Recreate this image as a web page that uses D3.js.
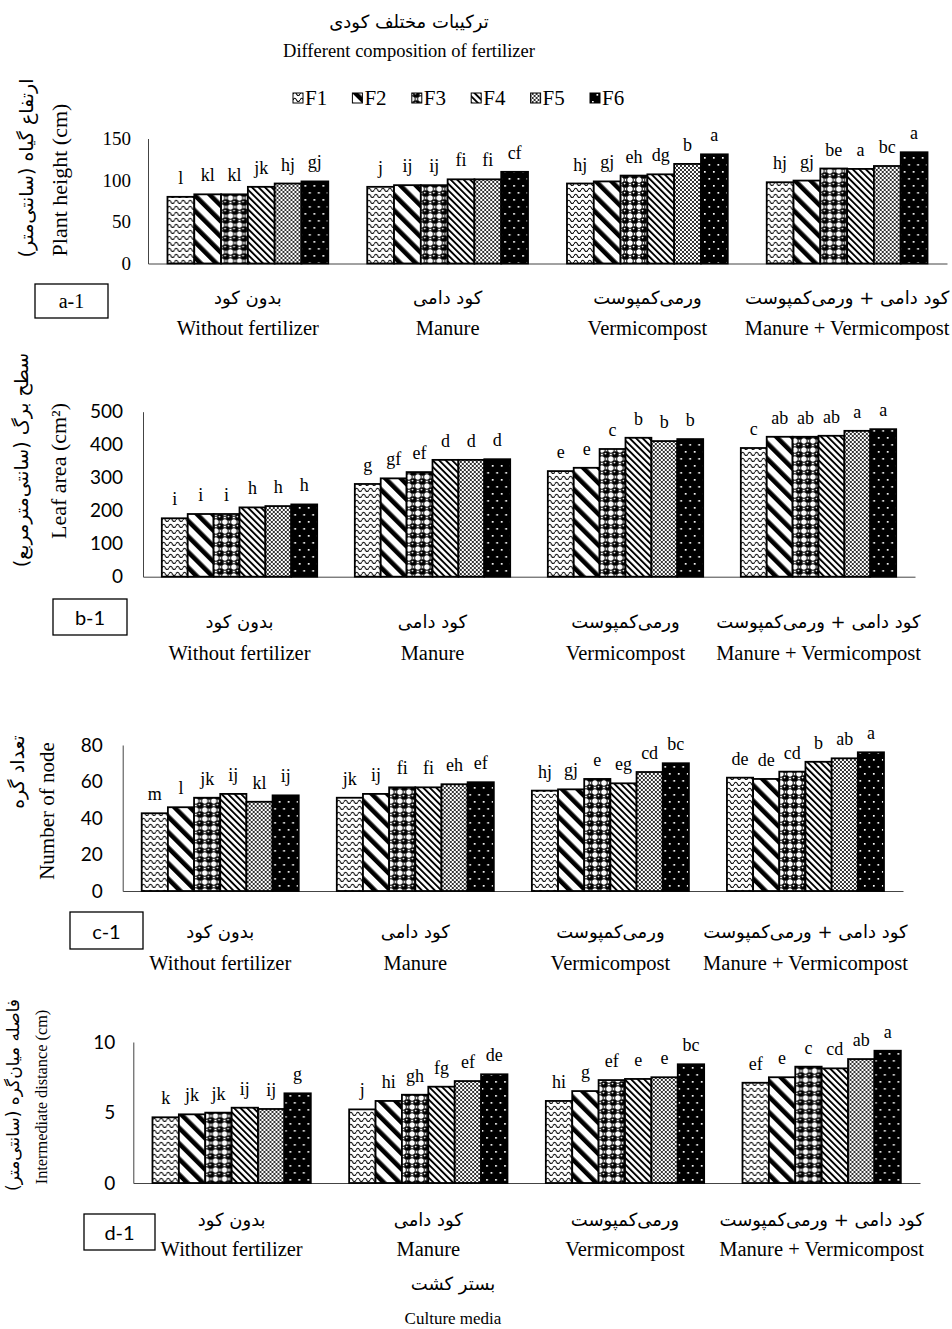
<!DOCTYPE html>
<html>
<head>
<meta charset="utf-8">
<script src="https://cdn.jsdelivr.net/npm/d3@7"></script>
<style>
  body { margin: 0; background: #fff; }
  svg { display: block; }
</style>
</head>
<body>
<svg id="chart" width="952" height="1329"></svg>
<script>
// ---------- data ----------
const seriesNames = ["F1", "F2", "F3", "F4", "F5", "F6"];
const categoriesFa = ["بدون کود", "کود دامی", "ورمی‌کمپوست", "کود دامی + ورمی‌کمپوست"];
const categoriesEn = ["Without fertilizer", "Manure", "Vermicompost", "Manure + Vermicompost"];

const heightValues = [
  [80, 83, 83, 92, 96, 98.5],
  [92, 94, 94, 101, 101, 110],
  [96, 98.5, 105.5, 107, 119.5, 131],
  [97.5, 99.5, 114, 113.5, 117, 133.5]
];
const heightLetters = [
  ["l", "kl", "kl", "jk", "hj", "gj"],
  ["j", "ij", "ij", "fi", "fi", "cf"],
  ["hj", "gj", "eh", "dg", "b", "a"],
  ["hj", "gj", "be", "a", "bc", "a"]
];
const heightTicks = [0, 50, 100, 150];

const leafAreaValues = [
  [177, 190, 190, 210, 214, 219],
  [281, 298, 317, 354, 354, 356],
  [320, 330, 387, 421, 411, 417],
  [390, 424, 424, 427, 442, 447]
];
const leafAreaLetters = [
  ["i", "i", "i", "h", "h", "h"],
  ["g", "gf", "ef", "d", "d", "d"],
  ["e", "e", "c", "b", "b", "b"],
  ["c", "ab", "ab", "ab", "a", "a"]
];
const leafAreaTicks = [0, 100, 200, 300, 400, 500];

const nodeValues = [
  [42.6, 45.9, 51.1, 53.2, 48.9, 52.4],
  [51.1, 53.2, 56.8, 56.8, 58.5, 59.6],
  [55, 55.7, 61.4, 59, 65.2, 70],
  [62.1, 61.4, 65.4, 70.8, 72.7, 76]
];
const nodeLetters = [
  ["m", "l", "jk", "ij", "kl", "ij"],
  ["jk", "ij", "fi", "fi", "eh", "ef"],
  ["hj", "gj", "e", "eg", "cd", "bc"],
  ["de", "de", "cd", "b", "ab", "a"]
];
const nodeTicks = [0, 20, 40, 60, 80];

const internodeValues = [
  [4.66, 4.87, 4.99, 5.34, 5.25, 6.36],
  [5.22, 5.82, 6.26, 6.83, 7.23, 7.71],
  [5.82, 6.52, 7.3, 7.38, 7.5, 8.42],
  [7.11, 7.5, 8.25, 8.13, 8.79, 9.38]
];
const internodeLetters = [
  ["k", "jk", "jk", "ij", "ij", "g"],
  ["j", "hi", "gh", "fg", "ef", "de"],
  ["hi", "g", "ef", "e", "e", "bc"],
  ["ef", "e", "c", "cd", "ab", "a"]
];
const internodeTicks = [0, 5, 10];

const yTitlesFa = ["ارتفاع گیاه (سانتی‌متر)", "سطح برگ (سانتی‌مترمربع)", "تعداد گره", "فاصله میان‌گره (سانتی‌متر)"];
const yTitlesEn = ["Plant height (cm)", "Leaf area (cm²)", "Number of node", "Intermediate distance (cm)"];
const panelTags = ["a-1", "b-1", "c-1", "d-1"];

const titleFa = "ترکیبات مختلف کودی";
const titleEn = "Different composition of fertilizer";
const xTitleFa = "بستر کشت";
const xTitleEn = "Culture media";

// ---------- styles & layout ----------
const SERIF = "'Liberation Serif','Times New Roman',serif";
const SANS = "Lato,'Liberation Sans',Arial,sans-serif";
const FA = "'DejaVu Sans',sans-serif";

const panels = [
  { values: heightValues, letters: heightLetters, ticks: heightTicks,
    left: 148, right: 947, top: 138.5, base: 263.5,
    tickFont: SERIF, tickSize: 19, tickGap: 17,
    faX: 26, faY: 168, faSize: 19, enX: 59, enY: 180, enSize: 22,
    catFaDy: 40, catEnDy: 71, box: [35, 284, 73, 34] },
  { values: leafAreaValues, letters: leafAreaLetters, ticks: leafAreaTicks,
    left: 143, right: 915, top: 411.7, base: 576.7,
    tickFont: SANS, tickSize: 19, tickGap: 20,
    faX: 21, faY: 460, faSize: 19, enX: 58, enY: 471, enSize: 22,
    catFaDy: 51, catEnDy: 83, box: [53, 599, 74, 36] },
  { values: nodeValues, letters: nodeLetters, ticks: nodeTicks,
    left: 122.7, right: 903, top: 745, base: 891,
    tickFont: SANS, tickSize: 19, tickGap: 20,
    faX: 17, faY: 772, faSize: 19, enX: 47, enY: 811, enSize: 21,
    catFaDy: 47, catEnDy: 79, box: [70, 912, 73, 37] },
  { values: internodeValues, letters: internodeLetters, ticks: internodeTicks,
    left: 133.3, right: 920, top: 1042, base: 1183,
    tickFont: SANS, tickSize: 19, tickGap: 18,
    faX: 13, faY: 1095, faSize: 17, enX: 41, enY: 1097, enSize: 16.3,
    catFaDy: 43, catEnDy: 73, box: [84, 1214, 71, 36] }
];

const svg = d3.select("#chart");
const defs = svg.append("defs");

// ---------- fill patterns ----------
function pat(id, w, h, transform) {
  const p = defs.append("pattern").attr("id", id)
    .attr("patternUnits", "userSpaceOnUse").attr("width", w).attr("height", h);
  if (transform) p.attr("patternTransform", transform);
  return p;
}
// F1: wavy lines
{
  const p = pat("pF1", 7, 6);
  p.append("rect").attr("width", 7).attr("height", 6).attr("fill", "#fff");
  p.append("path").attr("d", "M0,4 Q1.75,0.6 3.5,4 T7,4")
    .attr("fill", "none").attr("stroke", "#000").attr("stroke-width", 1.1);
}
// F2: wide diagonal stripes
{
  const p = pat("pF2", 11, 11, "rotate(-45)");
  p.append("rect").attr("width", 11).attr("height", 11).attr("fill", "#fff");
  p.append("rect").attr("width", 4.6).attr("height", 11).attr("fill", "#000");
}
// F3: spheres on a checker
{
  const p = pat("pF3", 9, 9);
  p.append("rect").attr("width", 9).attr("height", 9).attr("fill", "#fff");
  [[0, 0], [9, 0], [0, 9], [9, 9]].forEach(([cx, cy]) =>
    p.append("circle").attr("cx", cx).attr("cy", cy).attr("r", 3.3)
      .attr("fill", "#fff").attr("stroke", "#000").attr("stroke-width", 1.1));
  p.append("circle").attr("cx", 4.5).attr("cy", 4.5).attr("r", 3.3).attr("fill", "#000");
  p.append("circle").attr("cx", 3.6).attr("cy", 3.6).attr("r", 0.9).attr("fill", "#fff");
}
// F4: narrow diagonal stripes
{
  const p = pat("pF4", 4.6, 6, "rotate(-45)");
  p.append("rect").attr("width", 4.6).attr("height", 6).attr("fill", "#fff");
  p.append("rect").attr("width", 1.9).attr("height", 6).attr("fill", "#000");
}
// F5: fine cross-hatch (grey appearance)
{
  const p = pat("pF5", 4, 4);
  p.append("rect").attr("width", 4).attr("height", 4).attr("fill", "#fff");
  p.append("path").attr("d", "M0,0 L4,4 M4,0 L0,4")
    .attr("stroke", "#000").attr("stroke-width", 0.8);
}
// F6: black with white dots
{
  const p = pat("pF6", 9, 14);
  p.append("rect").attr("width", 9).attr("height", 14).attr("fill", "#000");
  p.append("rect").attr("x", 2).attr("y", 3).attr("width", 1.7).attr("height", 1.7).attr("fill", "#fff");
  p.append("rect").attr("x", 6.5).attr("y", 10).attr("width", 1.7).attr("height", 1.7).attr("fill", "#fff");
}
const fillOf = s => `url(#p${s})`;

// ---------- header ----------
svg.append("text").attr("x", 409).attr("y", 21)
  .attr("text-anchor", "middle").attr("dominant-baseline", "central")
  .attr("direction", "rtl")
  .style("font-family", FA).style("font-size", "18px").text(titleFa);
svg.append("text").attr("x", 409).attr("y", 51)
  .attr("text-anchor", "middle").attr("dominant-baseline", "central")
  .style("font-family", SERIF).style("font-size", "18.5px").text(titleEn);

// legend
const legendX = d3.scalePoint().domain(seriesNames).range([293, 590]);
const legend = svg.append("g").selectAll("g").data(seriesNames).join("g")
  .attr("transform", d => `translate(${legendX(d)},0)`);
legend.append("rect").attr("x", 0).attr("y", 93).attr("width", 10).attr("height", 10)
  .attr("fill", d => fillOf(d)).attr("stroke", "#000").attr("stroke-width", 1);
legend.append("text").attr("x", 12).attr("y", 105)
  .style("font-family", SERIF).style("font-size", "21px").text(d => d);

// ---------- panels ----------
panels.forEach((cfg, i) => {
  const g = svg.append("g");
  const max = d3.max(cfg.ticks);

  const x0 = d3.scaleBand().domain(categoriesEn).range([cfg.left, cfg.right])
    .paddingInner(0.195).paddingOuter(0.0975);
  const x1 = d3.scaleBand().domain(seriesNames).range([0, x0.bandwidth()]);
  const y = d3.scaleLinear().domain([0, max]).range([cfg.base, cfg.top]);

  // axes
  const yAxis = g.append("g").attr("transform", `translate(${cfg.left},0)`)
    .call(d3.axisLeft(y).tickValues(cfg.ticks).tickSize(0).tickSizeOuter(0).tickPadding(cfg.tickGap));
  yAxis.select(".domain").attr("stroke", "#444").attr("stroke-width", 1);
  yAxis.selectAll("text").style("font-family", cfg.tickFont).style("font-size", cfg.tickSize + "px")
    .attr("fill", "#000");

  const xAxis = g.append("g").attr("transform", `translate(0,${cfg.base})`)
    .call(d3.axisBottom(x0).tickSize(0).tickSizeOuter(0).tickFormat(""));
  xAxis.select(".domain").attr("stroke", "#444").attr("stroke-width", 1);

  // bars
  const groups = g.append("g").selectAll("g").data(cfg.values).join("g")
    .attr("transform", (d, k) => `translate(${x0(categoriesEn[k])},0)`);
  groups.selectAll("rect").data(d => d.map((v, j) => ({ v, s: seriesNames[j] }))).join("rect")
    .attr("x", d => x1(d.s))
    .attr("y", d => y(d.v))
    .attr("width", x1.bandwidth())
    .attr("height", d => cfg.base - y(d.v))
    .attr("fill", d => fillOf(d.s))
    .attr("stroke", "#000").attr("stroke-width", 1.8);

  // significance letters
  groups.selectAll("text.lab")
    .data((d, k) => d.map((v, j) => ({ v, s: seriesNames[j], t: cfg.letters[k][j] })))
    .join("text").attr("class", "lab")
    .attr("x", d => x1(d.s) + x1.bandwidth() / 2)
    .attr("y", d => y(d.v) - 13)
    .attr("text-anchor", "middle")
    .style("font-family", SERIF).style("font-size", "18px")
    .text(d => d.t);

  // category labels
  const cats = g.append("g").selectAll("g").data(categoriesEn).join("g")
    .attr("transform", d => `translate(${x0(d) + x0.bandwidth() / 2},${cfg.base})`);
  cats.append("text").attr("y", cfg.catFaDy).attr("text-anchor", "middle")
    .attr("direction", "rtl")
    .style("font-family", FA).style("font-size", "18px")
    .text((d, k) => categoriesFa[k]);
  cats.append("text").attr("y", cfg.catEnDy).attr("text-anchor", "middle")
    .style("font-family", SERIF).style("font-size", "20.5px")
    .text(d => d);

  // y titles
  g.append("text").attr("transform", `translate(${cfg.faX},${cfg.faY}) rotate(-90)`)
    .attr("text-anchor", "middle").attr("dominant-baseline", "central")
    .attr("direction", "rtl")
    .style("font-family", FA).style("font-size", cfg.faSize + "px").text(yTitlesFa[i]);
  g.append("text").attr("transform", `translate(${cfg.enX},${cfg.enY}) rotate(-90)`)
    .attr("text-anchor", "middle").attr("dominant-baseline", "central")
    .style("font-family", SERIF).style("font-size", cfg.enSize + "px").text(yTitlesEn[i]);

  // panel tag box
  const [bx, by, bw, bh] = cfg.box;
  g.append("rect").attr("x", bx).attr("y", by).attr("width", bw).attr("height", bh)
    .attr("fill", "#fff").attr("stroke", "#000").attr("stroke-width", 1.3);
  g.append("text").attr("x", bx + bw / 2).attr("y", by + bh / 2)
    .attr("text-anchor", "middle").attr("dominant-baseline", "central")
    .style("font-family", i === 0 ? SERIF : SANS).style("font-size", "20px").text(panelTags[i]);
});

// ---------- bottom axis title ----------
svg.append("text").attr("x", 453).attr("y", 1283)
  .attr("text-anchor", "middle").attr("dominant-baseline", "central")
  .attr("direction", "rtl")
  .style("font-family", FA).style("font-size", "18px").text(xTitleFa);
svg.append("text").attr("x", 453).attr("y", 1318)
  .attr("text-anchor", "middle").attr("dominant-baseline", "central")
  .style("font-family", SERIF).style("font-size", "17px").text(xTitleEn);
</script>
</body>
</html>
